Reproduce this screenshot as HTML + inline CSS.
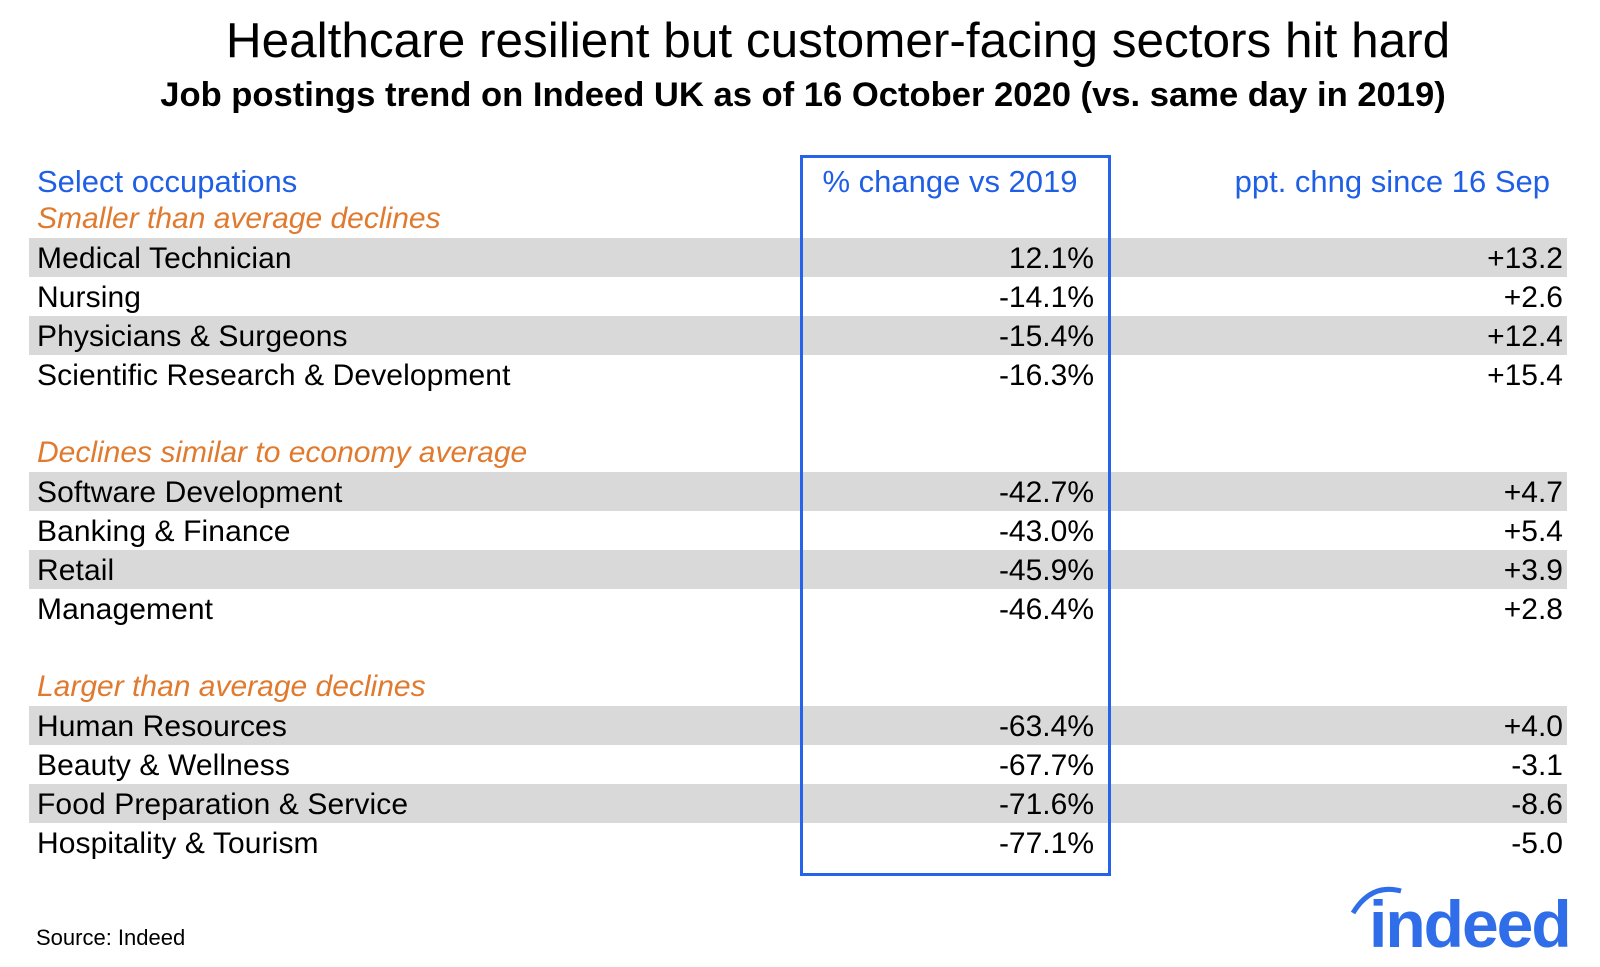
<!DOCTYPE html>
<html><head><meta charset="utf-8">
<style>
body{margin:0;width:1600px;height:967px;background:#fff;overflow:hidden;font-family:"Liberation Sans",Arial,sans-serif;position:relative}
.t{position:absolute;white-space:nowrap;line-height:1}
.band{position:absolute;background:#d9d9d9;height:39px}
</style></head><body>
<div class="t" style="left:0;width:1676px;text-align:center;top:16px;font-size:49.5px;color:#000">Healthcare resilient but customer-facing sectors hit hard</div>
<div class="t" style="left:0;width:1606px;text-align:center;top:78px;font-size:34.6px;font-weight:bold;color:#000">Job postings trend on Indeed UK as of 16 October 2020 (vs. same day in 2019)</div>
<div class="t" style="left:37px;top:166px;font-size:31px;color:#1f5fe6">Select occupations</div>
<div class="t" style="left:795px;width:310px;text-align:center;top:166px;font-size:31px;color:#1f5fe6">% change vs 2019</div>
<div class="t" style="right:50px;top:166px;font-size:31px;color:#1f5fe6">ppt. chng since 16 Sep</div>
<div id="rows"></div>
<div style="position:absolute;left:800px;top:155px;width:305px;height:715px;border:3px solid #2563eb"></div>
<div class="t" style="left:36px;top:927px;font-size:22px;color:#000">Source: Indeed</div>
<svg style="position:absolute;left:1345px;top:885px" width="250" height="82">
<path d="M8 28 Q26 -2 56 6" stroke="#2f6ee8" stroke-width="5" fill="none"/>
<text x="24" y="62" font-family="Liberation Sans, sans-serif" font-weight="bold" font-size="66" fill="#2f6ee8" letter-spacing="-2">indeed</text>
</svg>
<script>
const groups=["Smaller than average declines","Declines similar to economy average","Larger than average declines"];
const occupations=[["Medical Technician","Nursing","Physicians & Surgeons","Scientific Research & Development"],["Software Development","Banking & Finance","Retail","Management"],["Human Resources","Beauty & Wellness","Food Preparation & Service","Hospitality & Tourism"]];
const pctChange=[[12.1,-14.1,-15.4,-16.3],[-42.7,-43.0,-45.9,-46.4],[-63.4,-67.7,-71.6,-77.1]];
const pptChange=[[13.2,2.6,12.4,15.4],[4.7,5.4,3.9,2.8],[4.0,-3.1,-8.6,-5.0]];
const root=document.getElementById('rows');
function add(html,style,cls){const d=document.createElement('div');d.className=cls||'t';d.textContent=html;d.setAttribute('style',style);root.appendChild(d);return d;}
groups.forEach((g,gi)=>{
  const top0=238+gi*234;
  const h=add(g,`left:37px;top:${top0-34}px;font-size:30px;font-style:italic;color:#e07a2e`);
  
  
  occupations[gi].forEach((o,i)=>{
    const y=top0+i*39;
    if(i%2===0){const b=add('',`left:29px;width:1538px;top:${y}px`,'band');
      
      }
    const l=add(o,`left:37px;top:${y+6}px;font-size:30px;color:#000;letter-spacing:0.1px`);
    
    
    const v=pctChange[gi][i];
    const p=add(v.toFixed(1)+'%',`right:506px;top:${y+6}px;font-size:30px;color:#000`);
    
    
    const q=pptChange[gi][i];
    const r=add((q>=0?'+':'')+q.toFixed(1),`right:37px;top:${y+6}px;font-size:30px;color:#000`);
    
    
  });
});
</script>
</body></html>
